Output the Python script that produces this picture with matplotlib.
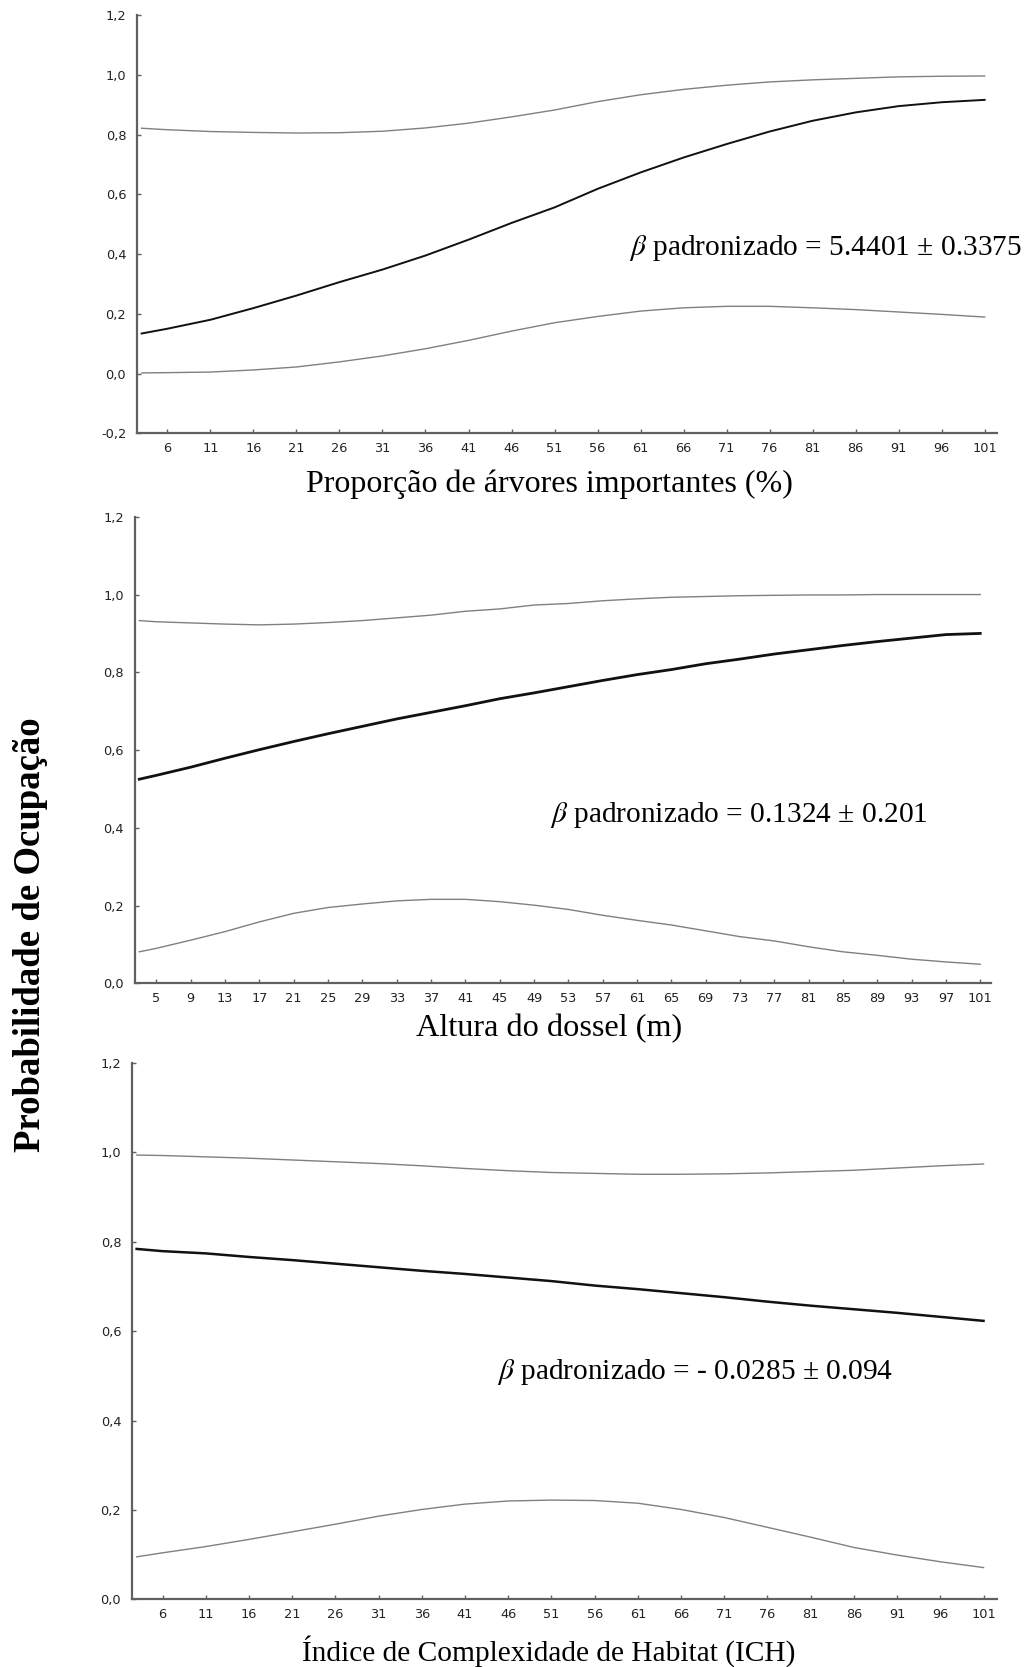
import matplotlib
matplotlib.use("Agg")
import matplotlib.pyplot as plt
from matplotlib.ticker import FuncFormatter

plt.rcParams['mathtext.fontset'] = 'stix'
plt.rcParams['font.family'] = ['DejaVu Sans']

# ---------------- data ----------------
x1 = [3, 6, 11, 16, 21, 26, 31, 36, 41, 46, 51, 56, 61, 66, 71, 76, 81, 86, 91, 96, 101]
mean1 = [0.134, 0.150, 0.180, 0.219, 0.261, 0.306, 0.348, 0.395, 0.448, 0.504, 0.556,
         0.618, 0.673, 0.723, 0.768, 0.810, 0.846, 0.874, 0.895, 0.908, 0.916]
upper1 = [0.821, 0.816, 0.810, 0.807, 0.805, 0.806, 0.811, 0.822, 0.838, 0.859, 0.882,
          0.910, 0.933, 0.951, 0.965, 0.976, 0.983, 0.988, 0.993, 0.995, 0.996]
lower1 = [0.002, 0.003, 0.005, 0.012, 0.022, 0.039, 0.059, 0.083, 0.111, 0.142, 0.170,
          0.191, 0.209, 0.220, 0.225, 0.225, 0.220, 0.214, 0.206, 0.198, 0.189]
xticks1 = list(range(6, 102, 5))

x2 = [3, 5, 9, 13, 17, 21, 25, 29, 33, 37, 41, 45, 49, 53, 57, 61, 65, 69, 73, 77, 81, 85, 89, 93, 97, 101]
mean2 = [0.525, 0.535, 0.556, 0.579, 0.601, 0.622, 0.642, 0.661, 0.680, 0.697, 0.714, 0.732, 0.747,
         0.763, 0.779, 0.794, 0.807, 0.822, 0.834, 0.847, 0.858, 0.869, 0.879, 0.888, 0.897, 0.900]
upper2 = [0.933, 0.930, 0.927, 0.924, 0.922, 0.924, 0.928, 0.933, 0.940, 0.947, 0.957, 0.963, 0.973,
          0.977, 0.984, 0.989, 0.993, 0.995, 0.997, 0.998, 0.999, 0.999, 1.000, 1.000, 1.000, 1.000]
lower2 = [0.081, 0.090, 0.111, 0.133, 0.158, 0.180, 0.195, 0.204, 0.212, 0.216, 0.216, 0.210, 0.201,
          0.190, 0.175, 0.162, 0.150, 0.135, 0.120, 0.109, 0.094, 0.081, 0.072, 0.062, 0.055, 0.049]
xticks2 = list(range(5, 102, 4))

x3 = [3, 6, 11, 16, 21, 26, 31, 36, 41, 46, 51, 56, 61, 66, 71, 76, 81, 86, 91, 96, 101]
mean3 = [0.784, 0.779, 0.774, 0.766, 0.759, 0.751, 0.743, 0.735, 0.728, 0.720, 0.712,
         0.702, 0.694, 0.685, 0.676, 0.666, 0.657, 0.649, 0.641, 0.632, 0.623]
upper3 = [0.994, 0.993, 0.990, 0.987, 0.983, 0.979, 0.975, 0.970, 0.964, 0.959, 0.955,
          0.953, 0.951, 0.951, 0.952, 0.954, 0.957, 0.960, 0.965, 0.970, 0.974]
lower3 = [0.095, 0.104, 0.118, 0.134, 0.151, 0.168, 0.186, 0.201, 0.213, 0.220, 0.222,
          0.221, 0.215, 0.201, 0.183, 0.161, 0.139, 0.116, 0.099, 0.084, 0.071]
xticks3 = list(range(6, 102, 5))

xlabels = ["Proporção de árvores importantes (%)",
           "Altura do dossel (m)",
           "Índice de Complexidade de Habitat (ICH)"]
annotations = ["$\\beta$ padronizado = 5.4401 ± 0.3375",
               "$\\beta$ padronizado = 0.1324 ± 0.201",
               "$\\beta$ padronizado = - 0.0285 ± 0.094"]
ylabel = "Probabilidade de Ocupação"

# ---------------- figure ----------------
W, H = 1029, 1667
fig = plt.figure(figsize=(W / 100, H / 100), dpi=100)

def px_rect(l, r, t, b):
    return [l / W, 1 - b / H, (r - l) / W, (b - t) / H]

rects = [px_rect(137.3, 996.7, 15, 433.3),
         px_rect(135, 990.5, 516.8, 983.3),
         px_rect(132.3, 996.5, 1063, 1599.3)]
ylims = [(-0.2, 1.2), (0.0, 1.2), (0.0, 1.2)]
xlims = [(2.5, 102.4), (2.5, 102.2), (2.5, 102.5)]
series = [(x1, mean1, upper1, lower1, xticks1),
          (x2, mean2, upper2, lower2, xticks2),
          (x3, mean3, upper3, lower3, xticks3)]
mean_lw = [1.4, 2.0, 1.8]
xlabel_y = [484, 1029, 1651]
xlabel_size = [23, 23.2, 21.2]
ann_pos = [(629, 248), (550, 815), (497, 1372)]

fmt = FuncFormatter(lambda v, p: ("%.1f" % v).replace(".", ",").replace("-0,0", "0,0"))

spine_col = "#606060"
for i, ax_rect in enumerate(rects):
    ax = fig.add_axes(ax_rect)
    x, m, u, lo, xt = series[i]
    ax.plot(x, u, color="#808080", lw=1.0)
    ax.plot(x, lo, color="#808080", lw=1.0)
    ax.plot(x, m, color="#111111", lw=mean_lw[i])
    ax.set_xlim(*xlims[i])
    ax.set_ylim(*ylims[i])
    ax.set_xticks(xt)
    ax.set_yticks([v / 10 for v in range(int(round(ylims[i][0] * 10)), 13, 2)])
    ax.yaxis.set_major_formatter(fmt)
    for s in ["top", "right"]:
        ax.spines[s].set_visible(False)
    for s in ["left", "bottom"]:
        ax.spines[s].set_color(spine_col)
        ax.spines[s].set_linewidth(1.6)
    ax.tick_params(axis="both", direction="in", length=3, width=1, color=spine_col,
                   labelsize=9.3, labelcolor="#222222")
    ax.tick_params(axis="x", pad=6)
    ax.tick_params(axis="y", pad=8)
    fig.text(549 / W, 1 - xlabel_y[i] / H, xlabels[i], ha="center", va="center",
             family="Liberation Serif", fontsize=xlabel_size[i])
    fig.text(ann_pos[i][0] / W, 1 - ann_pos[i][1] / H, annotations[i], ha="left", va="center",
             family="Liberation Serif", fontsize=21.2)

fig.text(31 / W, 1 - 935 / H, ylabel, rotation=90, ha="center", va="center",
         family="Liberation Serif", fontweight="bold", fontsize=26.5)

fig.savefig("out.png", dpi=100)
